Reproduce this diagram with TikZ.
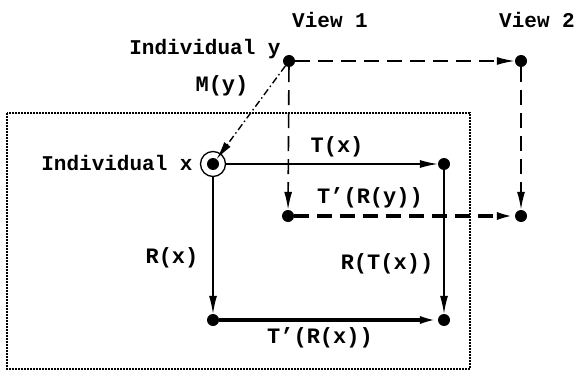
\documentclass[tikz,border=0pt]{standalone}
\usepackage{fontspec}
\setmonofont{Liberation Mono}
\usetikzlibrary{arrows.meta}
\begin{document}
\begin{tikzpicture}[x=1pt,y=-1pt,
  dot/.style={circle,fill,inner sep=0pt,minimum size=12pt},
  lbl/.style={font=\ttfamily\bfseries\fontsize{22}{24}\selectfont,inner sep=0pt},
  ttl/.style={font=\ttfamily\bfseries\fontsize{21}{23}\selectfont,inner sep=0pt},
  arr/.style={-{Latex[length=18pt,width=8pt]}},
  thinline/.style={line width=1.3pt,arr},
  thickline/.style={line width=3.2pt,arr},
  dashline/.style={line width=1.6pt,dash pattern=on 15pt off 8pt,arr},
  thickdash/.style={line width=3.2pt,dash pattern=on 15pt off 8pt,arr},
  dashdot/.style={line width=1.4pt,dash pattern=on 7pt off 3pt on 1.5pt off 3pt,arr},
  frame/.style={line width=1.2pt,dash pattern=on 1.8pt off 1.2pt}
]
\useasboundingbox (0,0) rectangle (577,374);
\draw[frame] (7,113) rectangle (470,369);

\node[dot] (y) at (289,61) {};
\node[dot] (v2) at (521,61) {};
\node[dot] (x) at (213,164) {};
\node[dot] (tx) at (444,164) {};
\node[dot] (ry) at (288,216) {};
\node[dot] (v2b) at (521,216) {};
\node[dot] (rx) at (213,320) {};
\node[dot] (rtx) at (444,320) {};
\node[circle,draw,line width=1.3pt,minimum size=25pt,inner sep=0pt] (xc) at (x) {};

\draw[dashline] (y) -- (v2);
\draw[dashline] (y) -- (ry);
\draw[dashline] (v2) -- (v2b);
\draw[dashdot] (y) -- (x);
\draw[thinline] (xc) -- (tx);
\draw[thinline] (xc) -- (rx);
\draw[thinline] (tx) -- (rtx);
\draw[thickline] (rx) -- (rtx);
\draw[thickdash] (ry) -- (v2b);

\node[ttl] (lv1) at (330,20) {View 1};
\node[ttl] (lv2) at (537,20) {View 2};
\node[ttl] (liy) at (205,49) {Individual y};
\node[ttl] (lix) at (117,163) {Individual x};
\node[lbl] (lmy) at (222,86) {M(y)};
\node[lbl] (ltx) at (337,147) {T(x)};
\node[lbl] (ltry) at (370,198) {T’(R(y))};
\node[lbl] (lrx) at (172,258) {R(x)};
\node[lbl] (lrtx) at (387,264) {R(T(x))};
\node[lbl] (ltrx) at (320,338) {T’(R(x))};
\end{tikzpicture}
\end{document}
